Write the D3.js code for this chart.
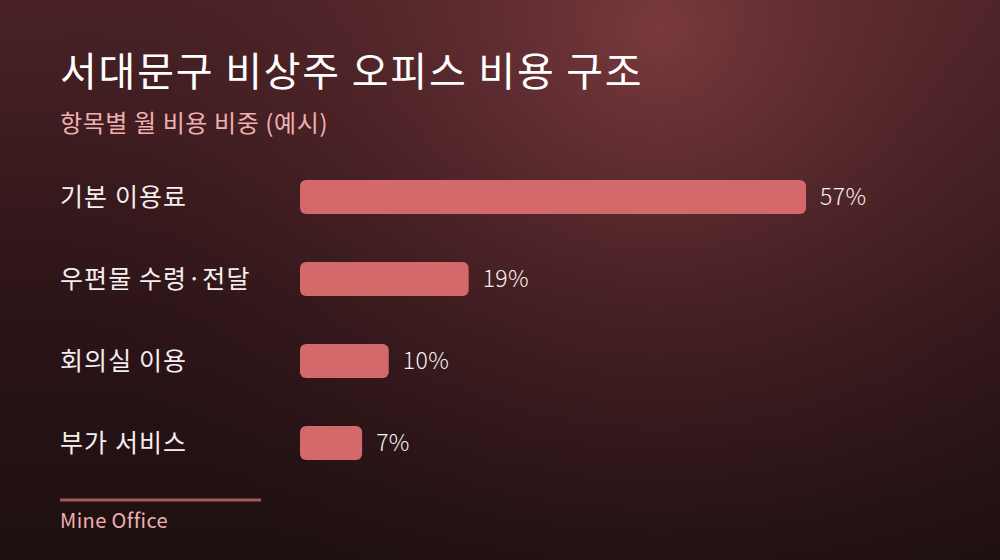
<!DOCTYPE html>
<html>
<head>
<meta charset="utf-8">
<script src="https://cdn.jsdelivr.net/npm/d3@7"></script>
<style>
  html, body { margin: 0; padding: 0; background: #1e1012; }
  svg { display: block; }
</style>
</head>
<body>
<svg id="chart"></svg>
<script>
const categories = ["기본 이용료", "우편물 수령·전달", "회의실 이용", "부가 서비스"];
const shares = [57, 19, 10, 7];
const title = "서대문구 비상주 오피스 비용 구조";
const subtitle = "항목별 월 비용 비중 (예시)";
const source = "Mine Office";

const width = 1000;
const height = 560;
const font = "'Noto Sans CJK KR', 'Noto Sans', sans-serif";

const svg = d3.select("#chart")
    .attr("width", width)
    .attr("height", height);

// background
const defs = svg.append("defs");
const lin = defs.append("linearGradient")
    .attr("id", "bgLin")
    .attr("x1", 0).attr("y1", 0).attr("x2", 0).attr("y2", 1);
lin.append("stop").attr("offset", "0%").attr("stop-color", "#4a2226");
lin.append("stop").attr("offset", "55%").attr("stop-color", "#2c1417");
lin.append("stop").attr("offset", "100%").attr("stop-color", "#1d0f11");

const rad = defs.append("radialGradient")
    .attr("id", "bgGlow")
    .attr("gradientUnits", "userSpaceOnUse")
    .attr("cx", 660).attr("cy", 30).attr("r", 640);
rad.append("stop").attr("offset", "0%").attr("stop-color", "#7e3c40").attr("stop-opacity", 0.9);
rad.append("stop").attr("offset", "45%").attr("stop-color", "#5e2b2f").attr("stop-opacity", 0.5);
rad.append("stop").attr("offset", "100%").attr("stop-color", "#3a1a1d").attr("stop-opacity", 0);

svg.append("rect").attr("width", width).attr("height", height).attr("fill", "url(#bgLin)");
svg.append("rect").attr("width", width).attr("height", height).attr("fill", "url(#bgGlow)");

// scales
const x = d3.scaleLinear()
    .domain([0, d3.max(shares)])
    .range([300, 806]);

const y = d3.scaleBand()
    .domain(categories)
    .range([156, 484])
    .paddingInner(0.585)
    .paddingOuter(0.2925);

// titles
svg.append("text")
    .attr("x", 60)
    .attr("y", 86)
    .attr("fill", "#ffffff")
    .style("font-family", font)
    .style("font-size", "40px")
    .style("letter-spacing", "1.8px")
    .text(title);

svg.append("text")
    .attr("x", 60)
    .attr("y", 132)
    .attr("fill", "#f0b0b0")
    .style("font-family", font)
    .style("font-size", "24px")
    .style("letter-spacing", "0.6px")
    .text(subtitle);

// rows
const rows = svg.selectAll("g.row")
    .data(categories.map((c, i) => ({cat: c, val: shares[i]})))
    .enter()
    .append("g")
    .attr("class", "row");

rows.append("text")
    .attr("x", 60)
    .attr("y", d => y(d.cat) + y.bandwidth() / 2)
    .attr("dy", "0.35em")
    .attr("fill", "#f4eeee")
    .style("font-family", font)
    .style("font-size", "25px")
    .style("letter-spacing", "1.1px")
    .text(d => d.cat);

rows.append("rect")
    .attr("x", x(0))
    .attr("y", d => y(d.cat))
    .attr("width", d => x(d.val) - x(0))
    .attr("height", y.bandwidth())
    .attr("rx", 6)
    .attr("fill", "#d4696b");

rows.append("text")
    .attr("x", d => x(d.val) + 14)
    .attr("y", d => y(d.cat) + y.bandwidth() / 2)
    .attr("dy", "0.35em")
    .attr("fill", "#f6f0f0")
    .style("font-family", font)
    .style("font-size", "23px")
    .style("font-weight", 300)
    .style("letter-spacing", "0.4px")
    .text(d => d.val + "%");

// footer
svg.append("line")
    .attr("x1", 60).attr("x2", 261)
    .attr("y1", 500).attr("y2", 500)
    .attr("stroke", "#a5585b")
    .attr("stroke-width", 3);

svg.append("text")
    .attr("x", 60)
    .attr("y", 528)
    .attr("fill", "#f0b0b0")
    .style("font-family", font)
    .style("font-size", "20px")
    .style("letter-spacing", "0.4px")
    .text(source);
</script>
</body>
</html>
